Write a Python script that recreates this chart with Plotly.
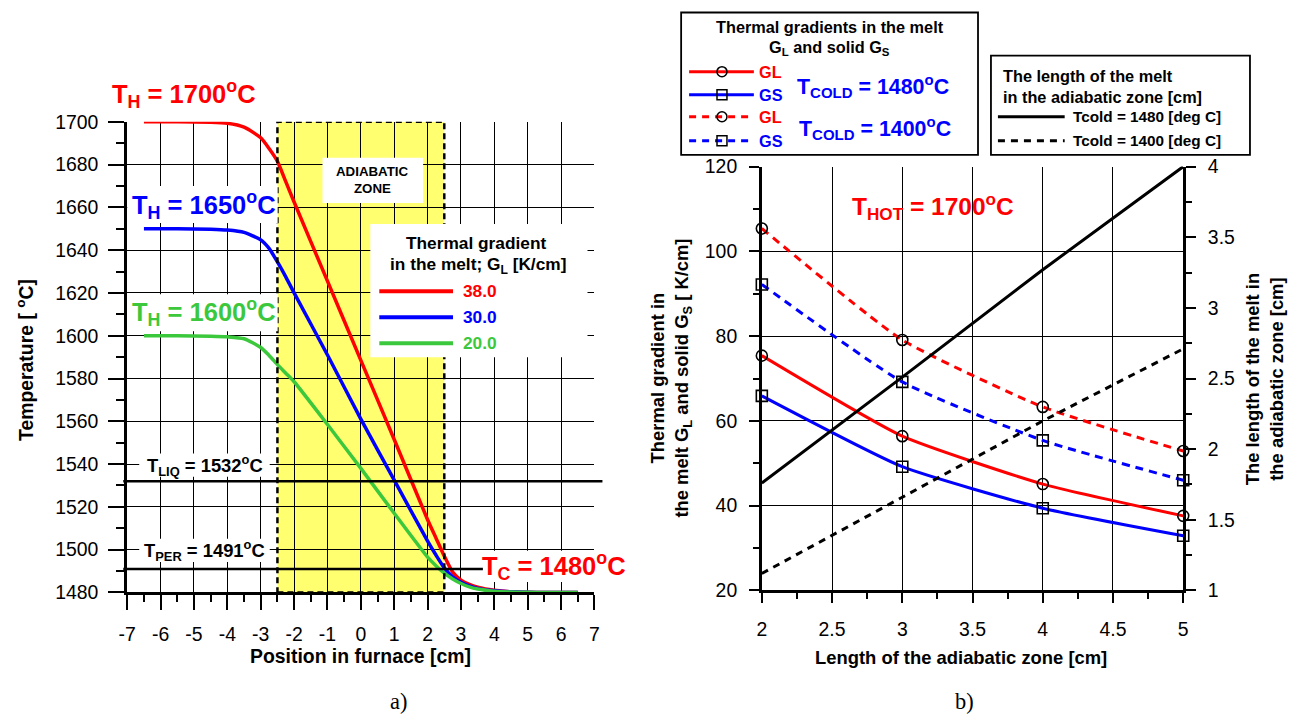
import plotly.graph_objects as go

W, H = 1300, 720
# Calibration of the photographed picture against page pixels (picture = A + S * page),
# used so that positions below can be given in the reference picture's pixels.
AX, SX = 5.3, 0.993
AY, SY = 11.5, 0.967
FS = 1.02  # font compensation for the picture scaling

FONT = "Arial, Liberation Sans, sans-serif"
RED, BLUE, GREEN = "#FF0000", "#0000FF", "#3CC83C"
YELLOW = "#FFFF70"

# ---------------- panel a) temperature profiles ----------------
POSITION_CM = [-6.5, -5.5, -4.5, -4, -3.5, -3, -2.75, -2.5, -2.25, -2, -1, 0, 1, 2,
               2.25, 2.5, 2.75, 3, 3.25, 3.5, 4, 4.5, 5, 5.5, 6.5]
TEMP_TH1700 = [1700, 1700, 1699.8, 1699.3, 1697.5, 1692.5, 1687.5, 1681.5, 1672, 1662.5,
               1625.5, 1588.5, 1551.5, 1514, 1505.5, 1497, 1489.5, 1485.8, 1483.8, 1482.5,
               1481, 1480.3, 1480.1, 1480, 1480]
TEMP_TH1650 = [1650, 1650, 1649.8, 1649.4, 1648.3, 1644.8, 1640.8, 1634.5, 1627.5, 1620,
               1591, 1561, 1532.5, 1504, 1497.5, 1491.5, 1487.3, 1484.8, 1483.1, 1481.9,
               1480.8, 1480.3, 1480.1, 1480, 1480]
TEMP_TH1600 = [1600, 1600, 1599.8, 1599.5, 1598.6, 1594.5, 1590.8, 1586.5, 1582.5, 1578.5,
               1558.5, 1538, 1517, 1496.5, 1492.5, 1489, 1486.3, 1484.2, 1482.6, 1481.6,
               1480.6, 1480.2, 1480.05, 1480, 1480]
X_TICKS_A = [-7, -6, -5, -4, -3, -2, -1, 0, 1, 2, 3, 4, 5, 6, 7]
GRADIENT_LABELS = ["38.0", "30.0", "20.0"]
T_HOT_LABELS = ["1700", "1650", "1600"]
T_COLD_LABEL = "1480"
T_LIQ = 1532
T_PER = 1491
ADIABATIC_ZONE = [-2.5, 2.5]

# ---------------- panel b) gradients vs adiabatic zone length ----------------
ZONE_LENGTH_CM = [2, 3, 4, 5]
GL_TC1480 = [75.4, 56.4, 45.1, 37.6]
GS_TC1480 = [65.9, 49.2, 39.4, 32.9]
GL_TC1400 = [105.4, 79.1, 63.3, 52.9]
GS_TC1400 = [92.2, 69.2, 55.4, 46.0]
MELT_LEN_TC1480 = [1.76, 2.51, 3.27, 4.0]
MELT_LEN_TC1400 = [1.12, 1.66, 2.2, 2.71]


def PX(x):
    return ((x - AX) / SX) / W


def PY(y):
    return 1 - ((y - AY) / SY) / H


def F(size):
    return round(size * FS, 1)


fig = go.Figure()

# ---- panel a traces ----
for temps, col in [(TEMP_TH1700, RED), (TEMP_TH1650, BLUE), (TEMP_TH1600, GREEN)]:
    fig.add_trace(go.Scatter(x=POSITION_CM, y=temps, mode="lines",
                             line=dict(color=col, width=3.5, shape="spline", smoothing=0.6),
                             xaxis="x", yaxis="y", showlegend=False, hoverinfo="skip"))

# ---- panel b traces ----
DASHED = "8px,6px"
for vals, col, dash, sym in [
    (GL_TC1480, RED, "solid", "circle-open"),
    (GS_TC1480, BLUE, "solid", "square-open"),
    (GL_TC1400, RED, DASHED, "circle-open"),
    (GS_TC1400, BLUE, DASHED, "square-open"),
]:
    fig.add_trace(go.Scatter(x=ZONE_LENGTH_CM, y=vals, mode="lines+markers",
                             line=dict(color=col, width=3, dash=dash, shape="spline", smoothing=0.5),
                             marker=dict(symbol=sym, size=11, color="black", line=dict(width=1.6, color="black")),
                             xaxis="x2", yaxis="y2", showlegend=False, cliponaxis=False, hoverinfo="skip"))
for vals, dash in [(MELT_LEN_TC1480, "solid"), (MELT_LEN_TC1400, "7px,6px")]:
    fig.add_trace(go.Scatter(x=ZONE_LENGTH_CM, y=vals, mode="lines",
                             line=dict(color="black", width=3, dash=dash),
                             xaxis="x2", yaxis="y3", showlegend=False, hoverinfo="skip"))

shapes = []
annotations = []

# adiabatic zone
shapes.append(dict(type="rect", xref="x", yref="y", x0=ADIABATIC_ZONE[0], x1=ADIABATIC_ZONE[1],
                   y0=1480, y1=1700, fillcolor=YELLOW, line=dict(width=0), layer="below"))
shapes.append(dict(type="rect", xref="x", yref="y", x0=ADIABATIC_ZONE[0], x1=ADIABATIC_ZONE[1],
                   y0=1480, y1=1700, line=dict(color="black", width=2.5, dash="6px,4px"), layer="above"))
# liquidus / peritectic lines (span the whole panel width)
for tv in (T_LIQ, T_PER):
    shapes.append(dict(type="line", xref="paper", yref="y", x0=PX(120), x1=PX(601), y0=tv, y1=tv,
                       line=dict(color="black", width=2.5), layer="above"))


def txt(s, x, y, size, color="black", bold=True, xanchor="center", bg=None, angle=0,
        family=FONT, pad=1):
    annotations.append(dict(text=(f"<b>{s}</b>" if bold else s), x=PX(x), y=PY(y),
                            xref="paper", yref="paper", showarrow=False, xanchor=xanchor,
                            yanchor="middle", textangle=angle, bgcolor=bg, borderpad=pad,
                            font=dict(size=F(size), color=color, family=family)))


def white_box(x0, y0, x1, y1, border=False):
    shapes.append(dict(type="rect", xref="paper", yref="paper", x0=PX(x0), x1=PX(x1),
                       y0=PY(y1), y1=PY(y0), fillcolor="white",
                       line=dict(width=(1.8 if border else 0), color="black"), layer="above"))


# ---- panel a labels ----
txt(f"T<sub>H</sub> = {T_HOT_LABELS[0]}<sup>o</sup>C", 181, 94, 25, RED)
white_box(124, 186, 275, 223)
txt(f"T<sub>H</sub> = {T_HOT_LABELS[1]}<sup>o</sup>C", 201, 205, 25, BLUE)
white_box(124, 294, 275, 331)
txt(f"T<sub>H</sub> = {T_HOT_LABELS[2]}<sup>o</sup>C", 201, 312, 25, GREEN)

white_box(136, 453, 267, 476)
txt(f"T<sub>LIQ</sub> = {T_LIQ}<sup>o</sup>C", 202, 465, 18)
white_box(136, 538, 267, 561)
txt(f"T<sub>PER</sub> = {T_PER}<sup>o</sup>C", 202, 550, 18)
white_box(481, 550, 640, 581)
txt(f"T<sub>C</sub> = {T_COLD_LABEL}<sup>o</sup>C", 552, 565, 25, RED)

white_box(320, 158, 421, 203)
txt("ADIABATIC", 370, 172, 13)
txt("ZONE", 370, 189, 13)

# panel a legend
white_box(368, 224, 586, 357)
txt("Thermal gradient", 474, 243, 17)
txt("in the melt; G<sub>L</sub> [K/cm]", 476, 265, 17)
for i, (lab, col) in enumerate(zip(GRADIENT_LABELS, [RED, BLUE, GREEN])):
    yy = 291 + 26 * i
    shapes.append(dict(type="line", xref="paper", yref="paper", x0=PX(377), x1=PX(451),
                       y0=PY(yy), y1=PY(yy), line=dict(color=col, width=4), layer="above"))
    txt(lab, 459, yy, 17, col, xanchor="left")

# axis titles panel a
txt("Temperature [ <sup>o</sup>C]", 22, 360, 19, angle=-90)
txt("Position in furnace [cm]", 358, 655, 19)
txt("a)", 396, 700, 22, bold=False, family="Liberation Serif, Times New Roman, serif")

# ---- panel b labels ----
txt(f"T<sub>HOT</sub> = {T_HOT_LABELS[0]}<sup>o</sup>C", 933, 207, 24, RED)
txt("Thermal gradient in<br>the melt G<sub>L</sub> and solid G<sub>S</sub> [ K/cm]", 670, 378, 18, angle=-90)
txt("The length of the melt in<br>the adiabatic zone [cm]", 1266, 378, 18, angle=-90)
txt("Length of the adiabatic zone [cm]", 961, 656, 18)
txt("b)", 964, 700, 22, bold=False, family="Liberation Serif, Times New Roman, serif")

# legend box 1
white_box(680, 13, 978, 155, border=True)
txt("Thermal gradients in the melt", 829, 27, 16)
txt("G<sub>L</sub> and solid G<sub>S</sub>", 829, 48, 16)
rows = [(72, RED, "solid", "circle", "GL"), (95, BLUE, "solid", "square", "GS"),
        (117, RED, "7px,6px", "circle", "GL"), (141, BLUE, "7px,6px", "square", "GS")]
for yy, col, dash, sym, lab in rows:
    shapes.append(dict(type="line", xref="paper", yref="paper", x0=PX(688), x1=PX(753),
                       y0=PY(yy), y1=PY(yy), line=dict(color=col, width=3, dash=dash), layer="above"))
    shapes.append(dict(type=("circle" if sym == "circle" else "rect"), xref="paper", yref="paper",
                       x0=PX(716), x1=PX(726), y0=PY(yy + 5), y1=PY(yy - 5),
                       fillcolor="rgba(0,0,0,0)", line=dict(color="black", width=1.5), layer="above"))
    txt(lab, 756, yy, 16, col, xanchor="left")
txt("T<sub>COLD</sub> = 1480<sup>o</sup>C", 873, 86, 21, BLUE)
txt("T<sub>COLD</sub> = 1400<sup>o</sup>C", 875, 128, 21, BLUE)

# legend box 2
white_box(991, 56, 1251, 155, border=True)
txt("The length of the melt", 1001, 76, 16, xanchor="left")
txt("in the adiabatic zone [cm]", 1001, 97, 16, xanchor="left")
for yy, dash, lab in [(117, "solid", "Tcold = 1480 [deg C]"), (141, "7px,6px", "Tcold = 1400 [deg C]")]:
    shapes.append(dict(type="line", xref="paper", yref="paper", x0=PX(998), x1=PX(1065),
                       y0=PY(yy), y1=PY(yy), line=dict(color="black", width=3, dash=dash), layer="above"))
    txt(lab, 1071, yy, 15, xanchor="left")

tickfont = dict(family=FONT, size=F(19), color="black")
axis_common = dict(showgrid=True, gridcolor="black", gridwidth=1, zeroline=False, showline=True,
                   linecolor="black", ticks="outside", tickcolor="black", tickfont=tickfont)

fig.update_layout(
    width=W, height=H, autosize=False, margin=dict(l=0, r=0, t=0, b=0, pad=0),
    paper_bgcolor="white", plot_bgcolor="white", showlegend=False,
    xaxis=dict(domain=[PX(124), PX(593)], range=[-7, 7], anchor="y",
               tickmode="array", tickvals=X_TICKS_A, ticktext=[str(v) for v in X_TICKS_A],
               linewidth=3, ticklen=15, tickwidth=2, ticklabelstandoff=7,
               minor=dict(dtick=0.5, ticklen=7, tickwidth=2, ticks="outside", tickcolor="black", showgrid=False),
               **axis_common),
    yaxis=dict(domain=[PY(591.5), PY(122)], range=[1480, 1700], dtick=20, anchor="x",
               linewidth=3, ticklen=16, tickwidth=2, ticklabelstandoff=6,
               minor=dict(dtick=10, ticklen=8, tickwidth=2, ticks="outside", tickcolor="black", showgrid=False),
               **axis_common),
    xaxis2=dict(domain=[PX(761), PX(1184)], range=[2, 5], dtick=0.5, anchor="y2",
                linewidth=2.5, ticklen=10, tickwidth=2, ticklabelstandoff=10,
                minor=dict(dtick=0.25, ticklen=6, tickwidth=2, ticks="outside", tickcolor="black", showgrid=False),
                **axis_common),
    yaxis2=dict(domain=[PY(589.5), PY(166.7)], range=[20, 120], dtick=20, anchor="x2",
                linewidth=2.5, ticklen=10, tickwidth=2, ticklabelstandoff=8,
                minor=dict(dtick=10, ticklen=6, tickwidth=2, ticks="outside", tickcolor="black", showgrid=False),
                **axis_common),
    yaxis3=dict(domain=[PY(589.5), PY(166.7)], range=[1, 4], dtick=0.5, anchor="x2",
                overlaying="y2", side="right", showgrid=False, zeroline=False, showline=True,
                linecolor="black", linewidth=2.5, ticks="outside", tickcolor="black", ticklen=10,
                tickwidth=2, ticklabelstandoff=8, tickfont=tickfont,
                minor=dict(dtick=0.25, ticklen=6, tickwidth=2, ticks="outside", tickcolor="black")),
    shapes=shapes, annotations=annotations,
)

fig.write_html(
    "out.html",
    config={"responsive": False, "displayModeBar": False},
    post_script="document.documentElement.style.margin='0';document.body.style.margin='0';",
)
